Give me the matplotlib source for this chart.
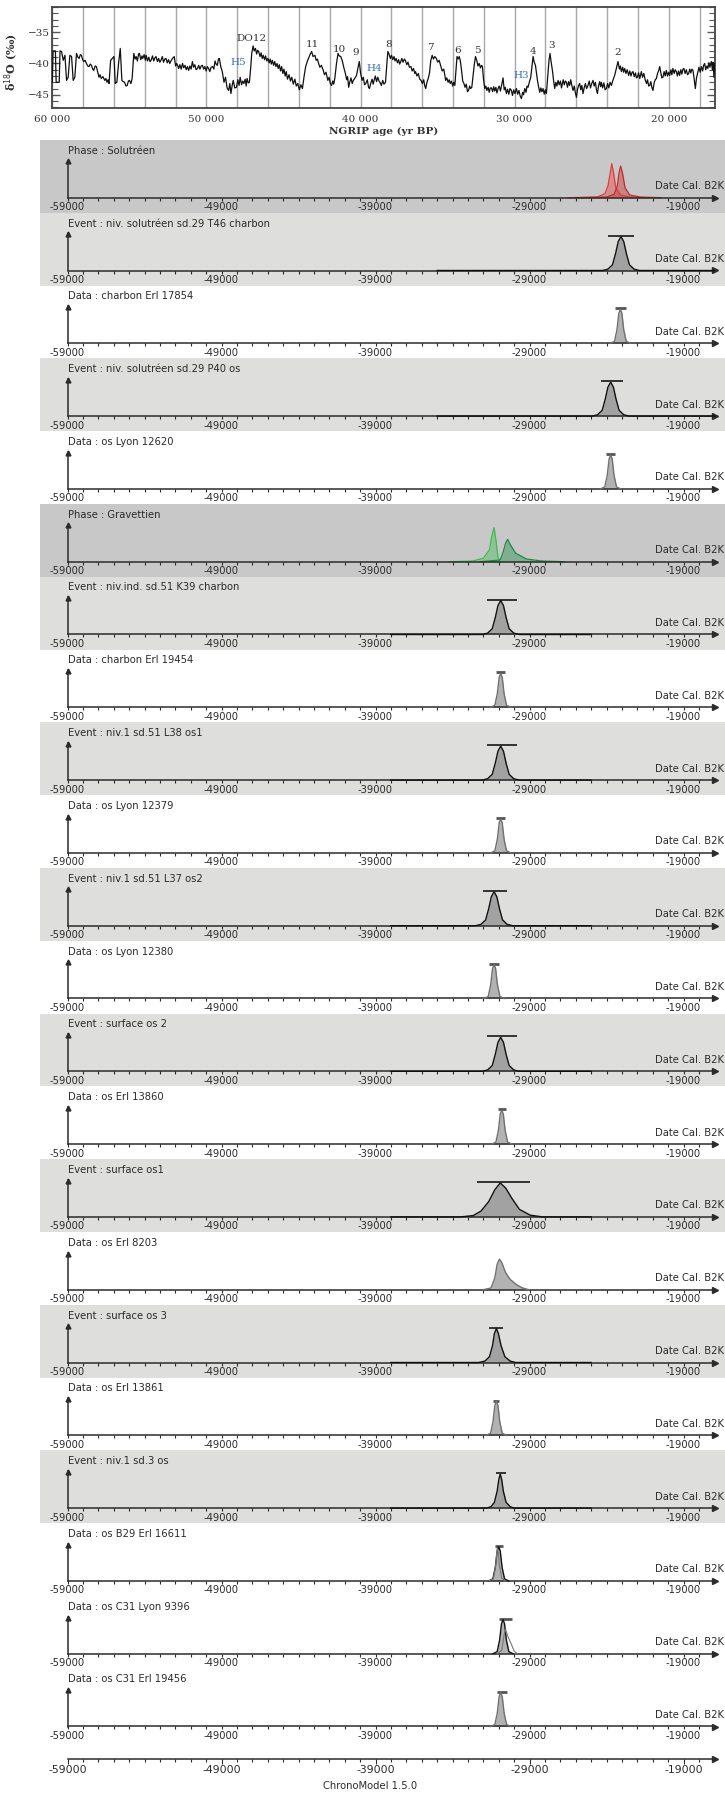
import numpy as np
import matplotlib.pyplot as plt
from matplotlib.ticker import FuncFormatter, MultipleLocator

# -----------------------------
# NGRIP d18O curve (age yr BP, d18O)
# -----------------------------
ngrip_points = [
    (60000, -43.0), (59950, -38.0), (59800, -38.0), (59750, -43.0), (59550, -43.0),
    (59500, -38.0), (59400, -38.1), (59290, -39.5), (59180, -38.7), (59075, -42.7),
    (58970, -42.2), (58860, -38.7), (58750, -38.9), (58645, -42.7), (58540, -42.2),
    (58430, -38.4), (58340, -39.0), (58260, -39.2), (58180, -38.6), (58110, -38.7),
    (58030, -39.4), (57960, -39.7), (57870, -39.5), (57785, -40.0), (57700, -40.4),
    (57615, -40.5), (57540, -40.1), (57460, -40.3), (57380, -40.9), (57310, -41.1),
    (57220, -40.4), (57140, -40.5), (57050, -41.4), (56970, -42.2), (56900, -41.8),
    (56820, -42.4), (56710, -42.1), (56600, -42.7), (56520, -42.4), (56450, -43.0),
    (56380, -42.6), (56320, -43.2), (56215, -39.5), (56110, -39.2), (56000, -38.9),
    (55915, -43.2), (55810, -43.0), (55700, -40.0), (55590, -37.6), (55485, -42.7),
    (55400, -42.9), (55310, -43.0), (55220, -43.6), (55140, -43.5), (55060, -42.8),
    (54990, -42.7), (54900, -43.2), (54820, -42.4), (54710, -38.4), (54630, -39.3),
    (54560, -38.9), (54480, -39.6), (54400, -38.5), (54345, -38.4), (54260, -39.4),
    (54180, -38.8), (54130, -39.2), (54040, -38.6), (53960, -39.5), (53915, -38.7),
    (53820, -39.6), (53740, -39.0), (53660, -39.7), (53590, -39.5), (53500, -38.8),
    (53420, -39.6), (53340, -39.1), (53270, -38.9), (53180, -39.7), (53100, -39.2),
    (53020, -39.8), (52950, -39.5), (52860, -38.9), (52780, -39.8), (52700, -39.3),
    (52620, -39.2), (52540, -39.9), (52460, -39.4), (52380, -40.0), (52300, -39.6),
    (52200, -39.2), (52090, -38.9), (52000, -40.4), (51930, -40.0), (51870, -40.3),
    (51800, -40.8), (51720, -40.2), (51640, -40.9), (51550, -40.0), (51470, -40.7),
    (51390, -40.3), (51310, -41.0), (51230, -40.5), (51150, -41.1), (51070, -40.4),
    (50990, -40.9), (50910, -39.7), (50830, -40.6), (50750, -40.2), (50670, -41.0),
    (50580, -40.8), (50500, -40.3), (50420, -40.9), (50340, -40.4), (50260, -40.3),
    (50180, -40.9), (50100, -40.5), (50020, -41.2), (49940, -40.5), (49860, -40.8),
    (49780, -41.3), (49700, -40.6), (49600, -40.5), (49520, -40.9), (49440, -39.6),
    (49370, -40.1), (49290, -40.3), (49220, -39.3), (49160, -39.2), (49060, -40.6),
    (48970, -41.3), (48860, -43.0), (48760, -42.2), (48660, -43.9), (48560, -44.3),
    (48480, -43.2), (48410, -44.8), (48330, -43.5), (48260, -42.7), (48160, -43.9),
    (48050, -43.8), (47960, -42.6), (47880, -43.5), (47810, -42.2), (47720, -43.4),
    (47640, -42.8), (47570, -43.2), (47480, -42.5), (47420, -43.6), (47360, -42.4),
    (47280, -43.1), (47210, -43.0), (47120, -40.5), (47060, -38.4), (46970, -37.2),
    (46900, -38.0), (46820, -37.6), (46740, -38.5), (46680, -37.9), (46610, -38.1),
    (46520, -38.9), (46450, -38.3), (46380, -39.2), (46310, -38.7), (46230, -39.4),
    (46160, -38.8), (46080, -39.6), (46010, -39.2), (45930, -39.9), (45860, -39.3),
    (45790, -40.1), (45720, -39.5), (45640, -40.3), (45570, -39.7), (45490, -40.5),
    (45420, -40.0), (45340, -40.8), (45270, -40.2), (45190, -41.2), (45120, -40.5),
    (45040, -41.6), (44970, -40.9), (44890, -42.0), (44820, -41.3), (44740, -42.5),
    (44640, -41.8), (44550, -42.8), (44460, -42.2), (44360, -43.3), (44260, -42.5),
    (44170, -43.6), (44070, -43.2), (43970, -44.2), (43870, -43.4), (43770, -44.0),
    (43660, -42.0), (43560, -40.5), (43470, -39.8), (43380, -39.2), (43280, -38.6),
    (43170, -38.1), (43080, -38.9), (42960, -38.7), (42880, -39.5), (42800, -39.3),
    (42720, -40.0), (42640, -40.6), (42540, -40.3), (42420, -41.1), (42340, -41.8),
    (42240, -41.4), (42120, -42.7), (42040, -42.2), (41960, -43.2), (41880, -43.5),
    (41800, -42.8), (41740, -43.3), (41670, -42.4), (41560, -40.0), (41460, -38.4),
    (41380, -38.8), (41280, -38.9), (41180, -39.6), (41070, -40.8), (40990, -41.5),
    (40900, -42.6), (40840, -42.1), (40770, -43.8), (40700, -43.0), (40620, -42.3),
    (40540, -43.2), (40470, -42.7), (40380, -42.4), (40260, -41.9), (40160, -40.6),
    (40080, -39.7), (40000, -41.5), (39900, -42.7), (39820, -42.2), (39740, -43.4),
    (39660, -43.2), (39560, -42.6), (39480, -43.8), (39420, -44.0), (39330, -43.1),
    (39250, -42.5), (39180, -43.3), (39120, -42.7), (39040, -42.0), (38960, -42.9),
    (38880, -42.2), (38800, -42.8), (38720, -43.1), (38650, -43.5), (38560, -42.7),
    (38480, -43.3), (38380, -43.0), (38300, -40.5), (38230, -38.1), (38150, -38.5),
    (38070, -39.2), (37990, -38.7), (37910, -39.4), (37830, -38.9), (37760, -39.6),
    (37690, -39.2), (37600, -39.9), (37530, -39.4), (37460, -40.1), (37390, -39.7),
    (37320, -39.2), (37240, -39.8), (37160, -39.3), (37090, -39.5), (37000, -40.2),
    (36920, -39.8), (36830, -40.6), (36730, -40.5), (36650, -41.2), (36560, -40.8),
    (36480, -41.6), (36430, -41.3), (36340, -42.0), (36250, -41.6), (36160, -42.5),
    (36070, -42.7), (35990, -43.2), (35900, -42.6), (35830, -43.6), (35770, -44.0),
    (35690, -43.0), (35610, -42.4), (35530, -41.6), (35440, -39.5), (35350, -38.7),
    (35270, -39.3), (35180, -38.9), (35080, -39.2), (34990, -39.8), (34900, -39.5),
    (34780, -40.5), (34700, -41.2), (34600, -40.9), (34520, -42.0), (34480, -42.7),
    (34400, -42.3), (34320, -43.0), (34250, -42.6), (34180, -43.2), (34100, -42.8),
    (34020, -43.6), (33950, -43.0), (33880, -43.5), (33800, -41.0), (33740, -38.9),
    (33670, -39.3), (33600, -38.9), (33530, -39.5), (33450, -41.0), (33370, -42.8),
    (33290, -43.2), (33220, -43.8), (33140, -43.3), (33060, -44.5), (32990, -44.3),
    (32920, -43.6), (32860, -44.0), (32780, -43.8), (32700, -42.0), (32620, -40.2),
    (32540, -38.9), (32460, -39.5), (32380, -40.4), (32300, -40.0), (32220, -40.7),
    (32150, -40.3), (32090, -40.5), (32020, -42.5), (31940, -44.0), (31870, -43.6),
    (31800, -44.3), (31720, -43.8), (31650, -44.6), (31580, -43.9), (31506, -43.9),
    (31430, -44.5), (31360, -43.7), (31290, -44.4), (31220, -43.8), (31150, -44.7),
    (31077, -44.0), (31000, -43.6), (30920, -44.4), (30850, -43.5), (30753, -42.3),
    (30680, -44.2), (30610, -43.8), (30535, -44.8), (30460, -44.1), (30380, -44.9),
    (30300, -44.0), (30210, -44.3), (30140, -45.1), (30060, -44.2), (29980, -44.8),
    (29885, -44.0), (29800, -44.9), (29720, -44.3), (29640, -45.2), (29560, -45.6),
    (29480, -44.6), (29420, -45.0), (29345, -44.0), (29260, -44.6), (29200, -43.6),
    (29130, -43.8), (29050, -43.0), (28955, -42.2), (28880, -40.5), (28805, -38.9),
    (28730, -39.8), (28650, -40.3), (28580, -41.6), (28520, -42.7), (28440, -43.8),
    (28370, -44.6), (28300, -43.9), (28230, -44.5), (28160, -44.0), (28080, -44.9),
    (28010, -44.2), (27940, -44.8), (27835, -41.6), (27770, -39.5), (27705, -38.4),
    (27630, -39.8), (27550, -41.1), (27470, -42.8), (27400, -44.0), (27330, -43.0),
    (27260, -43.6), (27185, -42.7), (27110, -43.4), (27030, -42.8), (26960, -43.9),
    (26925, -43.5), (26850, -42.6), (26780, -43.4), (26710, -42.8), (26640, -43.0),
    (26570, -43.8), (26500, -42.9), (26430, -43.5), (26360, -42.6), (26290, -43.5),
    (26210, -44.3), (26130, -43.6), (26060, -44.7), (25990, -45.4), (25920, -44.1),
    (25850, -43.5), (25780, -43.2), (25710, -44.2), (25640, -43.5), (25565, -44.8),
    (25490, -43.9), (25410, -43.2), (25330, -44.0), (25240, -43.5), (25160, -42.8),
    (25080, -43.9), (25000, -43.2), (24915, -42.7), (24840, -43.6), (24760, -43.0),
    (24700, -44.1), (24630, -44.8), (24560, -43.6), (24480, -42.9), (24420, -43.7),
    (24370, -43.0), (24290, -43.9), (24210, -43.1), (24130, -44.2), (24050, -44.0),
    (23970, -43.2), (23890, -43.9), (23810, -43.0), (23720, -43.5), (23640, -42.8),
    (23580, -42.4), (23510, -41.9), (23400, -40.8), (23295, -39.7), (23200, -40.9),
    (23140, -40.4), (23075, -41.3), (22990, -40.6), (22930, -41.4), (22860, -40.8),
    (22780, -41.6), (22700, -41.0), (22600, -41.9), (22530, -41.2), (22450, -42.0),
    (22380, -41.4), (22320, -41.3), (22240, -42.1), (22160, -41.5), (22100, -42.3),
    (22035, -42.2), (21960, -41.5), (21880, -42.4), (21780, -41.3), (21700, -42.2),
    (21620, -41.6), (21520, -42.7), (21440, -43.2), (21380, -42.6), (21300, -43.6),
    (21240, -43.5), (21160, -42.9), (21100, -43.8), (21025, -44.3), (20950, -43.1),
    (20880, -42.6), (20805, -42.4), (20730, -41.6), (20660, -41.2), (20590, -40.5),
    (20520, -41.4), (20450, -42.3), (20380, -42.2), (20300, -41.3), (20230, -42.0),
    (20160, -41.1), (20080, -42.0), (20010, -41.4), (19940, -41.9), (19860, -41.0),
    (19800, -41.8), (19730, -40.8), (19650, -41.6), (19580, -41.0), (19510, -41.3),
    (19440, -42.0), (19370, -41.2), (19295, -41.9), (19220, -41.0), (19150, -41.7),
    (19080, -40.9), (19015, -40.8), (18940, -41.6), (18860, -41.0), (18780, -41.8),
    (18710, -41.6), (18640, -40.9), (18570, -41.5), (18500, -40.9), (18430, -41.1),
    (18350, -42.5), (18275, -44.0), (18200, -42.3), (18105, -41.3), (18040, -40.6),
    (17960, -41.4), (17885, -40.5), (17800, -41.2), (17740, -40.3), (17670, -40.0),
    (17600, -41.0), (17530, -40.4), (17460, -40.8), (17400, -39.9), (17330, -40.6),
    (17235, -39.7), (17170, -41.0), (17120, -39.8), (17070, -42.2), (17020, -40.0),
]
ngrip_age = [p[0] for p in ngrip_points]
ngrip_d18o = [p[1] for p in ngrip_points]

event_labels = ["DO12", "11", "10", "9", "8", "7", "6", "5", "4", "3", "2"]
event_age = [47060, 43110, 41370, 40320, 38170, 35440, 33675, 32445, 28780, 27615, 23335]
event_y = [-36.1, -37.0, -37.7, -38.2, -37.0, -37.5, -38.0, -38.0, -38.1, -37.2, -38.3]
heinrich_labels = ["H5", "H4", "H3"]
heinrich_age = [47960, 39125, 29540]
heinrich_y = [-39.9, -40.8, -41.9]

# -----------------------------
# ChronoModel panels
# -----------------------------
titles = ["Phase : Solutréen",
          "Event : niv. solutréen sd.29 T46 charbon",
          "Data : charbon Erl 17854",
          "Event : niv. solutréen sd.29 P40 os",
          "Data : os Lyon 12620",
          "Phase : Gravettien",
          "Event : niv.ind. sd.51 K39 charbon",
          "Data : charbon Erl 19454",
          "Event : niv.1 sd.51 L38 os1",
          "Data : os Lyon 12379",
          "Event : niv.1 sd.51 L37 os2",
          "Data : os Lyon 12380",
          "Event : surface os 2",
          "Data : os Erl 13860",
          "Event : surface os1",
          "Data : os Erl 8203",
          "Event : surface os 3",
          "Data : os Erl 13861",
          "Event : niv.1 sd.3 os",
          "Data : os B29 Erl 16611",
          "Data : os C31 Lyon 9396",
          "Data : os C31 Erl 19456"]
kinds = [t.split(" :")[0] for t in titles]

# main density of every panel: dates (B2K) and relative height
dens_years = [
    [-26500, -24600, -24100, -23900, -23750, -23660, -23550, -23400, -23100, -22500, -21500],
    [-35000, -24260, -23910, -23610, -23410, -23240, -23060, -22880, -22710, -22510, -22210, -21860, -17000],
    [-23750, -23480, -23320, -23200, -23100, -23000, -22880, -22720, -22450],
    [-35000, -24930, -24580, -24280, -24080, -23910, -23730, -23550, -23380, -23180, -22880, -22530, -17000],
    [-24380, -24110, -23950, -23830, -23730, -23630, -23510, -23350, -23080],
    [-34200, -32700, -32000, -31600, -31450, -31300, -31200, -31050, -30900],
    [-38000, -32070, -31720, -31420, -31220, -31050, -30870, -30690, -30520, -30320, -30020, -29670, -25000],
    [-31520, -31250, -31090, -30970, -30870, -30770, -30650, -30490, -30220],
    [-38000, -32070, -31720, -31420, -31220, -31050, -30870, -30690, -30520, -30320, -30020, -29670, -25000],
    [-31520, -31250, -31090, -30970, -30870, -30770, -30650, -30490, -30220],
    [-38000, -32500, -32150, -31850, -31650, -31480, -31300, -31120, -30950, -30750, -30450, -30100, -25000],
    [-31950, -31680, -31520, -31400, -31300, -31200, -31080, -30920, -30650],
    [-38000, -32070, -31720, -31420, -31220, -31050, -30870, -30690, -30520, -30320, -30020, -29670, -25000],
    [-31450, -31180, -31020, -30900, -30800, -30700, -30580, -30420, -30150],
    [-38000, -33450, -32650, -32150, -31650, -31250, -30900, -30550, -30150, -29650, -28950, -28150, -25000],
    [-32000, -31500, -31250, -31100, -30950, -30800, -30550, -30250, -29850, -29450, -29050],
    [-38000, -32300, -31900, -31600, -31400, -31280, -31150, -31020, -30850, -30600, -30250, -29900, -25000],
    [-31800, -31530, -31370, -31250, -31150, -31050, -30930, -30770, -30500],
    [-38000, -31800, -31500, -31280, -31100, -30990, -30900, -30810, -30700, -30520, -30250, -30000, -25000],
    [-31650, -31380, -31220, -31100, -31000, -30900, -30780, -30620, -30350],
    [-31370, -31100, -30940, -30820, -30720, -30620, -30500, -30340, -30070],
    [-31520, -31250, -31090, -30970, -30870, -30770, -30650, -30490, -30220],
]
dens_vals = [
    [0, 0.02, 0.12, 0.35, 0.75, 1.0, 0.75, 0.3, 0.08, 0.02, 0],
    [0, 0, 0.04, 0.17, 0.5, 0.85, 1.0, 0.85, 0.5, 0.17, 0.04, 0, 0],
    [0, 0.06, 0.4, 0.88, 1.0, 0.88, 0.4, 0.06, 0],
    [0, 0, 0.04, 0.17, 0.5, 0.85, 1.0, 0.85, 0.5, 0.17, 0.04, 0, 0],
    [0, 0.06, 0.4, 0.88, 1.0, 0.88, 0.4, 0.06, 0],
    [0, 0.02, 0.1, 0.35, 0.75, 1.0, 0.7, 0.15, 0],
    [0, 0, 0.04, 0.17, 0.5, 0.85, 1.0, 0.85, 0.5, 0.17, 0.04, 0, 0],
    [0, 0.06, 0.4, 0.88, 1.0, 0.88, 0.4, 0.06, 0],
    [0, 0, 0.04, 0.17, 0.5, 0.85, 1.0, 0.85, 0.5, 0.17, 0.04, 0, 0],
    [0, 0.06, 0.4, 0.88, 1.0, 0.88, 0.4, 0.06, 0],
    [0, 0, 0.04, 0.17, 0.5, 0.85, 1.0, 0.85, 0.5, 0.17, 0.04, 0, 0],
    [0, 0.06, 0.4, 0.88, 1.0, 0.88, 0.4, 0.06, 0],
    [0, 0, 0.04, 0.17, 0.5, 0.85, 1.0, 0.85, 0.5, 0.17, 0.04, 0, 0],
    [0, 0.06, 0.4, 0.88, 1.0, 0.88, 0.4, 0.06, 0],
    [0, 0, 0.04, 0.17, 0.45, 0.8, 1.0, 0.85, 0.55, 0.22, 0.05, 0, 0],
    [0, 0.05, 0.35, 0.75, 0.9, 0.8, 0.5, 0.3, 0.15, 0.05, 0],
    [0, 0, 0.04, 0.17, 0.5, 0.85, 1.0, 0.85, 0.5, 0.17, 0.04, 0, 0],
    [0, 0.06, 0.4, 0.88, 1.0, 0.88, 0.4, 0.06, 0],
    [0, 0, 0.04, 0.17, 0.5, 0.85, 1.0, 0.85, 0.5, 0.17, 0.04, 0, 0],
    [0, 0.06, 0.4, 0.88, 1.0, 0.88, 0.4, 0.06, 0],
    [0, 0.06, 0.4, 0.88, 1.0, 0.88, 0.4, 0.06, 0],
    [0, 0.06, 0.4, 0.88, 1.0, 0.88, 0.4, 0.06, 0],
]
# highest posterior density bars (None = no bar)
hpd = [None, (-23880, -22230), (-23450, -22750), (-24380, -22920), (-24030, -23430),
       None, (-31740, -29835), (-31150, -30600), (-31740, -29800), (-31150, -30600),
       (-32050, -30450), (-31600, -31000), (-31740, -29835), (-31050, -30500),
       (-32400, -28950), None, (-31600, -30700), (-31350, -30950), (-31200, -30500),
       (-31250, -30750), (-30980, -30160), (-31130, -30480)]

# second curve of the phases (begin/end) and of two data panels
second_panel = [0, 5, 19, 20]
second_years = [
    [-26000, -24000, -23500, -23300, -23180, -23080, -22950, -22800, -22500, -21800, -20500],
    [-32200, -30900, -30700, -30550, -30420, -30250, -29900, -29200, -28200, -26700],
    [-31650, -31350, -31200, -31100, -31030, -30950, -30800, -30550],
    [-31100, -30800, -30650, -30550, -30400, -30200, -30000, -29800],
]
second_vals = [
    [0, 0.02, 0.1, 0.35, 0.75, 0.93, 0.7, 0.3, 0.08, 0.02, 0],
    [0, 0.05, 0.3, 0.55, 0.66, 0.5, 0.25, 0.08, 0.02, 0],
    [0, 0.06, 0.45, 0.95, 0.85, 0.45, 0.08, 0],
    [0, 0.1, 0.55, 0.72, 0.5, 0.3, 0.08, 0],
]

tick_major = list(range(-59000, -18999, 10000))
tick_minor = list(range(-59000, -17500, 1000))

# -----------------------------
# Figure
# -----------------------------
W, H = 725, 1794
fig = plt.figure(figsize=(W / 100, H / 100), dpi=100)
fig.patch.set_facecolor("white")


def px_axes(x0, y0, x1, y1):
    return fig.add_axes([x0 / W, 1 - y1 / H, (x1 - x0) / W, (y1 - y0) / H])


# ---- NGRIP panel ----
serif = "DejaVu Serif"
ax0 = px_axes(52.3, 7, 715, 108)
ax0.plot(ngrip_age, ngrip_d18o, color="#111111", lw=0.9, zorder=3)
ax0.set_xlim(60000, 17000)
ax0.set_ylim(-47.1, -31)
ax0.set_xticks(range(60000, 19999, -10000))
ax0.xaxis.set_minor_locator(MultipleLocator(2000))
ax0.grid(True, axis="x", which="both", color="#a8a8a8", lw=1.0, zorder=0)
ax0.xaxis.set_major_formatter(FuncFormatter(lambda v, p: f"{int(v // 1000)} 000"))
ax0.tick_params(axis="x", which="both", length=0, pad=5, labelsize=7.5,
                labelcolor="#333333", labelfontfamily=serif)
ax0.set_yticks([-45, -40, -35])
ax0.yaxis.set_minor_locator(MultipleLocator(1))
ax0.yaxis.set_major_formatter(FuncFormatter(lambda v, p: f"\u2212{abs(int(v))}"))
ax0.tick_params(axis="y", which="both", direction="in", left=True, right=True,
                color="#555555", labelsize=7.5, labelcolor="#333333",
                labelfontfamily=serif, pad=2)
ax0.tick_params(axis="y", which="major", length=6, width=1)
ax0.tick_params(axis="y", which="minor", length=4, width=0.8)
for s in ax0.spines.values():
    s.set_color("#444444")
    s.set_linewidth(1.3)
ax0.set_xlabel("NGRIP age (yr BP)", fontfamily=serif, fontweight="bold",
               fontsize=7.5, color="#333333", labelpad=2)
ax0.set_ylabel(r"δ$^{18}$O (‰)", fontfamily=serif, fontweight="bold",
               fontsize=8, color="#333333")
ax0.yaxis.set_label_coords(-0.047, 0.46)
for lab, a, v in zip(event_labels, event_age, event_y):
    ax0.text(a, v, lab, ha="center", va="center", fontsize=7.5,
             fontfamily=serif, color="#333333")
for lab, a, v in zip(heinrich_labels, heinrich_age, heinrich_y):
    ax0.text(a, v, lab, ha="center", va="center", fontsize=7.5,
             fontfamily=serif, color="#3a6fc0")

# ---- ChronoModel panels ----
PH = 72.8                 # panel height (px)
TOP = 140                 # top of the first panel (px)
BASE = PH - 57.7          # baseline inside a panel
AMP = 34                  # height of a density maximum (px)
X_LEFT = -59000 - 27.5 / 0.0154
X_RIGHT = -59000 + 657.5 / 0.0154
X_END = -17150
ink = "#2b2b2b"

bg = {"Phase": "#c8c8c8", "Event": "#dededc", "Data": "#ffffff"}
fill = {"Event": "#a2a2a2", "Data": "#b2b2b2"}
edge = {"Event": "#111111", "Data": "#707070"}
phase_cols = {0: [("#e03a3a", "#e05555"), ("#c42a2a", "#c84040")],
              5: [("#3dbb55", "#55c068"), ("#1f8a45", "#35985a")]}


def chrono_axis(ax, base, labelsize=7.2):
    ax.set_xlim(X_LEFT, X_RIGHT)
    for s in ["top", "right"]:
        ax.spines[s].set_visible(False)
    ax.spines["bottom"].set_position(("data", base))
    ax.spines["bottom"].set_bounds(-59000, X_END)
    ax.spines["bottom"].set_color(ink)
    ax.spines["bottom"].set_linewidth(1.1)
    ax.set_xticks(tick_major)
    ax.set_xticks(tick_minor, minor=True)
    ax.xaxis.set_major_formatter(FuncFormatter(lambda v, p: f"{int(v)}"))
    ax.tick_params(axis="x", which="both", direction="out", length=2.2, width=0.8,
                   color=ink, labelsize=labelsize, labelcolor=ink, pad=1)
    ax.set_yticks([])
    ax.plot([X_END + 200], [base], marker=">", ms=4, color=ink, clip_on=False)


for i, title in enumerate(titles):
    kind = kinds[i]
    top = TOP + i * PH
    ax = px_axes(40, top, 725, top + PH)
    ax.set_facecolor(bg[kind])
    ax.set_ylim(0, PH)
    chrono_axis(ax, BASE)
    ax.spines["left"].set_position(("data", -59000))
    ax.spines["left"].set_bounds(BASE, PH - 20.7)
    ax.spines["left"].set_color(ink)
    ax.spines["left"].set_linewidth(1.1)
    ax.plot([-59000], [PH - 21.5], marker="^", ms=3.5, color=ink)
    ax.text(-58950, PH - 10.7, title, ha="left", va="center", fontsize=7.2, color=ink)
    ax.text(-16400, BASE + 11.5, "Date Cal. B2K", ha="right", va="center",
            fontsize=7.2, color=ink)

    yrs = dens_years[i]
    vals = BASE + AMP * np.array(dens_vals[i])
    if kind == "Phase":
        (e1, f1), (e2, f2) = phase_cols[i]
        j = second_panel.index(i)
        yrs2 = second_years[j]
        vals2 = BASE + AMP * np.array(second_vals[j])
        ax.fill_between(yrs, BASE, vals, color=f1, alpha=0.5, lw=0)
        ax.plot(yrs, vals, color=e1, lw=0.9)
        ax.fill_between(yrs2, BASE, vals2, color=f2, alpha=0.5, lw=0)
        ax.plot(yrs2, vals2, color=e2, lw=0.9)
    else:
        if i in second_panel:
            j = second_panel.index(i)
            vals2 = BASE + AMP * np.array(second_vals[j])
            ax.plot(second_years[j], vals2, color="#777777", lw=0.8, zorder=4)
        ax.fill_between(yrs, BASE, vals, color=fill[kind], lw=0, zorder=2)
        lc = "#111111" if i in (19, 20) else edge[kind]
        ax.plot(yrs, vals, color=lc, lw=1.0, zorder=3)
        if hpd[i] is not None:
            yb = BASE + AMP * max(dens_vals[i]) + 0.8
            ax.plot(hpd[i], [yb, yb], color="#333333" if kind == "Event" else "#555555",
                    lw=1.4 if kind == "Event" else 2.0, solid_capstyle="butt")

# ---- stand-alone bottom axis ----
axb = px_axes(40, 1742, 725, 1794)
axb.set_facecolor("none")
axb.set_ylim(0, 52)
axb.spines["left"].set_visible(False)
chrono_axis(axb, 1794 - 1758.7, labelsize=7.8)
axb.tick_params(axis="x", which="major", length=3.5)

fig.text(370 / W, 1 - 1786 / H, "ChronoModel 1.5.0", ha="center", va="center",
         fontsize=7.2, color=ink)

fig.savefig("out.png", dpi=100)
